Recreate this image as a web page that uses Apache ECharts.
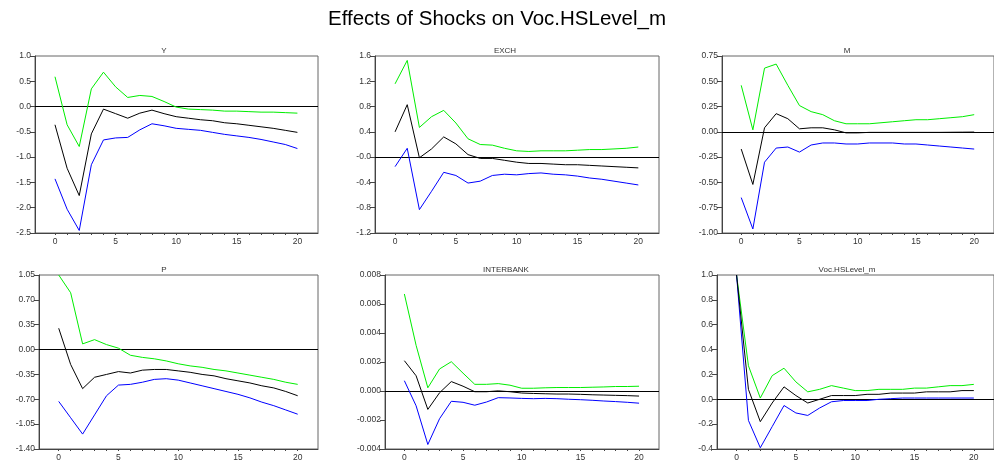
<!DOCTYPE html>
<html>
<head>
<meta charset="utf-8">
<script src="https://cdn.jsdelivr.net/npm/echarts@6/dist/echarts.min.js"></script>
<style>
html,body{margin:0;padding:0;background:#fff;}
#c{width:994px;height:462px;}
</style>
</head>
<body>
<div id="c"></div>
<script>
// ---- data ----
const steps = [0,1,2,3,4,5,6,7,8,9,10,11,12,13,14,15,16,17,18,19,20];
const xLabelSteps = [0,5,10,15,20];

const panelTitles = ["Y","EXCH","M","P","INTERBANK","Voc.HSLevel_m"];
const mainTitle = "Effects of Shocks on Voc.HSLevel_m";

const yUpper = [0.59,-0.36,-0.79,0.35,0.68,0.39,0.18,0.22,0.20,0.10,-0.01,-0.05,-0.06,-0.07,-0.09,-0.09,-0.10,-0.11,-0.11,-0.12,-0.13];
const yMid   = [-0.36,-1.22,-1.76,-0.54,-0.05,-0.14,-0.23,-0.13,-0.07,-0.14,-0.20,-0.23,-0.26,-0.28,-0.32,-0.34,-0.37,-0.40,-0.43,-0.47,-0.51];
const yLower = [-1.43,-2.03,-2.45,-1.15,-0.66,-0.62,-0.61,-0.46,-0.34,-0.38,-0.43,-0.45,-0.47,-0.51,-0.55,-0.58,-0.61,-0.65,-0.70,-0.75,-0.83];

const exchUpper = [1.16,1.53,0.47,0.64,0.74,0.54,0.29,0.20,0.19,0.14,0.10,0.09,0.10,0.10,0.10,0.11,0.12,0.12,0.13,0.14,0.16];
const exchMid   = [0.40,0.83,-0.01,0.13,0.32,0.21,0.04,-0.02,-0.02,-0.05,-0.08,-0.10,-0.10,-0.11,-0.12,-0.12,-0.13,-0.14,-0.15,-0.16,-0.17];
const exchLower = [-0.15,0.14,-0.83,-0.54,-0.24,-0.29,-0.41,-0.38,-0.29,-0.27,-0.28,-0.26,-0.25,-0.27,-0.28,-0.30,-0.33,-0.35,-0.38,-0.41,-0.44];

const mUpper = [0.46,0.02,0.63,0.67,0.46,0.26,0.20,0.17,0.11,0.08,0.08,0.08,0.09,0.10,0.11,0.12,0.12,0.13,0.14,0.15,0.17];
const mMid   = [-0.17,-0.52,0.04,0.18,0.13,0.03,0.04,0.04,0.02,-0.01,-0.01,-0.005,-0.005,-0.005,-0.005,-0.005,-0.005,-0.005,-0.004,-0.003,-0.002];
const mLower = [-0.65,-0.96,-0.30,-0.16,-0.15,-0.20,-0.13,-0.11,-0.11,-0.12,-0.12,-0.11,-0.11,-0.11,-0.12,-0.12,-0.13,-0.14,-0.15,-0.16,-0.17];

const pUpper = [1.05,0.80,0.08,0.14,0.07,0.02,-0.08,-0.11,-0.13,-0.16,-0.20,-0.23,-0.25,-0.28,-0.30,-0.33,-0.36,-0.39,-0.42,-0.46,-0.49];
const pMid   = [0.30,-0.21,-0.55,-0.39,-0.35,-0.31,-0.33,-0.29,-0.28,-0.28,-0.30,-0.32,-0.35,-0.37,-0.41,-0.44,-0.47,-0.51,-0.54,-0.59,-0.65];
const pLower = [-0.73,-0.96,-1.19,-0.92,-0.65,-0.50,-0.49,-0.46,-0.42,-0.41,-0.43,-0.47,-0.51,-0.55,-0.59,-0.63,-0.68,-0.74,-0.79,-0.85,-0.91];

const ibUpper = [0.00669,0.00315,0.00022,0.00152,0.00202,0.00123,0.00046,0.00046,0.00051,0.00040,0.00019,0.00019,0.00022,0.00024,0.00024,0.00024,0.00026,0.00028,0.00031,0.00031,0.00033];
const ibMid   = [0.00209,0.00105,-0.00127,-0.00012,0.00065,0.00033,-0.00005,-0.00005,0.00001,-0.00005,-0.00014,-0.00017,-0.00019,-0.00021,-0.00021,-0.00023,-0.00026,-0.00028,-0.00030,-0.00032,-0.00035];
const ibLower = [0.00071,-0.00102,-0.00369,-0.00191,-0.00071,-0.00078,-0.00098,-0.00076,-0.00046,-0.00048,-0.00051,-0.00053,-0.00051,-0.00053,-0.00057,-0.00060,-0.00064,-0.00069,-0.00073,-0.00078,-0.00084];

const vocUpper = [1.00,0.27,0.01,0.19,0.25,0.14,0.06,0.08,0.11,0.09,0.07,0.07,0.08,0.08,0.08,0.09,0.09,0.10,0.11,0.11,0.12];
const vocMid   = [1.00,0.08,-0.18,-0.03,0.10,0.03,-0.03,0.00,0.03,0.03,0.03,0.04,0.04,0.05,0.05,0.05,0.06,0.06,0.06,0.07,0.07];
const vocLower = [1.00,-0.17,-0.39,-0.22,-0.05,-0.11,-0.13,-0.07,-0.02,-0.01,-0.01,-0.01,0.00,0.005,0.01,0.01,0.01,0.01,0.01,0.01,0.01];

const yTickVals    = [-2.5,-2.0,-1.5,-1.0,-0.5,0.0,0.5,1.0];
const yTickLabels  = ["-2.5","-2.0","-1.5","-1.0","-0.5","0.0","0.5","1.0"];
const exchTickVals   = [-1.2,-0.8,-0.4,0.0,0.4,0.8,1.2,1.6];
const exchTickLabels = ["-1.2","-0.8","-0.4","-0.0","0.4","0.8","1.2","1.6"];
const mTickVals    = [-1.0,-0.75,-0.5,-0.25,0.0,0.25,0.5,0.75];
const mTickLabels  = ["-1.00","-0.75","-0.50","-0.25","0.00","0.25","0.50","0.75"];
const pTickVals    = [-1.4,-1.05,-0.7,-0.35,0.0,0.35,0.7,1.05];
const pTickLabels  = ["-1.40","-1.05","-0.70","-0.35","0.00","0.35","0.70","1.05"];
const ibTickVals   = [-0.004,-0.002,0.0,0.002,0.004,0.006,0.008];
const ibTickLabels = ["-0.004","-0.002","0.000","0.002","0.004","0.006","0.008"];
const vocTickVals   = [-0.4,-0.2,0.0,0.2,0.4,0.6,0.8,1.0];
const vocTickLabels = ["-0.4","-0.2","0.0","0.2","0.4","0.6","0.8","1.0"];

// ---- layout / style ----
const panels = [
  {upper:yUpper, mid:yMid, lower:yLower, tv:yTickVals, tl:yTickLabels, grid:{left:35, top:56, width:283, height:177}, tx:164, ty:51},
  {upper:exchUpper, mid:exchMid, lower:exchLower, tv:exchTickVals, tl:exchTickLabels, grid:{left:375, top:56, width:284, height:177}, tx:505, ty:51},
  {upper:mUpper, mid:mMid, lower:mLower, tv:mTickVals, tl:mTickLabels, grid:{left:722, top:56, width:278, height:177}, tx:847, ty:51},
  {upper:pUpper, mid:pMid, lower:pLower, tv:pTickVals, tl:pTickLabels, grid:{left:39, top:275, width:279, height:177}, tx:164, ty:270},
  {upper:ibUpper, mid:ibMid, lower:ibLower, tv:ibTickVals, tl:ibTickLabels, grid:{left:385, top:275, width:274, height:177}, tx:506, ty:270},
  {upper:vocUpper, mid:vocMid, lower:vocLower, tv:vocTickVals, tl:vocTickLabels, grid:{left:717, top:275, width:283, height:177}, tx:847, ty:270}
];

const FONT = 'Liberation Sans, Arial, sans-serif';
const AXC = '#444';
const LBL = '#333';

const grids = [], xAxes = [], yAxes = [], series = [], graphics = [];

panels.forEach((p, i) => {
  grids.push(Object.assign({show:true, borderColor:'#666', borderWidth:1, containLabel:false}, p.grid));
  xAxes.push({
    type:'value', gridIndex:i, min:-1.65, max:21.7,
    axisLine:{show:true, onZero:false, lineStyle:{color:AXC, width:1}},
    axisTick:{show:true, length:2, inside:false, customValues:steps, lineStyle:{color:AXC}},
    axisLabel:{show:true, customValues:xLabelSteps, fontSize:8.5, color:LBL, fontFamily:FONT, margin:4},
    splitLine:{show:false}
  });
  const tv = p.tv, tl = p.tl;
  yAxes.push({
    type:'value', gridIndex:i, min:tv[0], max:tv[tv.length-1],
    axisLine:{show:true, onZero:false, lineStyle:{color:AXC, width:1}},
    axisTick:{show:true, length:5, inside:false, customValues:tv, lineStyle:{color:AXC}},
    axisLabel:{show:true, customValues:tv, fontSize:8.5, color:LBL, fontFamily:FONT, margin:4,
      formatter:function(v){
        let best=0, bd=Infinity;
        for (let k=0;k<tv.length;k++){ const d=Math.abs(tv[k]-v); if(d<bd){bd=d;best=k;} }
        return tl[best];
      }},
    splitLine:{show:false}
  });
  const mk = (arr, color, z, extra) => Object.assign({
    type:'line', xAxisIndex:i, yAxisIndex:i, symbol:'none', z:z,
    data: steps.map((s,k)=>[s, arr[k]]),
    lineStyle:{color:color, width:1}, itemStyle:{color:color}, animation:false, silent:true
  }, extra||{});
  series.push(mk(p.upper, '#00ee00', 3, {
    markLine:{silent:true, symbol:'none', animation:false, label:{show:false},
      lineStyle:{color:'#000', width:1, type:'solid'}, data:[{yAxis:0}], z:2}
  }));
  series.push(mk(p.mid, '#000000', 4));
  series.push(mk(p.lower, '#0000ff', 3));
  graphics.push({type:'text', x:p.tx, y:p.ty, style:{text:panelTitles[i], fontSize:8, fontFamily:FONT, fill:'#333', textAlign:'center', textVerticalAlign:'middle'}});
});

graphics.push({type:'text', x:497, y:19, style:{text:mainTitle, fontSize:20.5, fontFamily:FONT, fill:'#000', textAlign:'center', textVerticalAlign:'middle'}});

const chart = echarts.init(document.getElementById('c'), null, {renderer:'canvas'});
chart.setOption({
  backgroundColor:'#fff',
  animation:false,
  grid:grids, xAxis:xAxes, yAxis:yAxes, series:series,
  graphic:graphics
});
</script>
</body>
</html>
